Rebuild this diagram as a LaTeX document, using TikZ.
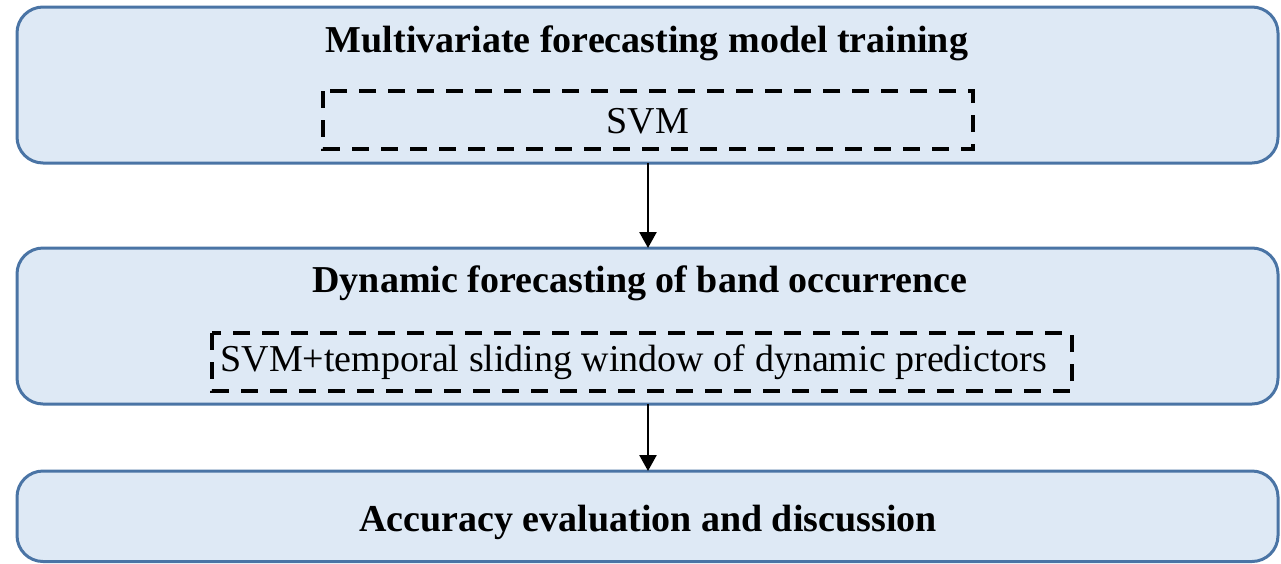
\documentclass[tikz,border=0pt]{standalone}
\usepackage{fontspec}
\setmainfont{Liberation Serif}
\usetikzlibrary{arrows.meta}
\definecolor{boxfill}{HTML}{DEE9F5}
\definecolor{boxline}{HTML}{4A74A5}
\begin{document}
\begin{tikzpicture}[x=1pt,y=-1pt,
  stage/.style={draw=boxline, fill=boxfill, line width=3pt, rounded corners=26pt},
  dbox/.style={draw=black, line width=4pt, dash pattern=on 17pt off 12pt},
  title/.style={font=\fontsize{38}{44}\selectfont\bfseries, inner sep=0pt},
  sub/.style={font=\fontsize{38}{44}\selectfont, inner sep=0pt},
  arr/.style={-{Triangle[length=16pt,width=17pt]}, line width=2.5pt}]
\useasboundingbox (0,0) rectangle (1281,563);
\draw[stage] (17,7) rectangle (1278,163);
\draw[stage] (17,248) rectangle (1278,404);
\draw[stage] (17,471) rectangle (1278,561.5);
\coordinate (b1s) at (648,163);
\coordinate (b2n) at (648,248);
\coordinate (b2s) at (648,404);
\coordinate (b3n) at (648,471);
\node[title] (t1) at (647,43) {Multivariate forecasting model training};
\draw[dbox] (323,91) rectangle (973,149);
\node[sub] (s1) at (648,121) {SVM};
\node[title] (t2) at (640,283) {Dynamic forecasting of band occurrence};
\draw[dbox] (212,333) rectangle (1072,391);
\node[sub] (s2) at (634,362) {SVM+temporal sliding window of dynamic predictors};
\node[title] (t3) at (648,522) {Accuracy evaluation and discussion};
\draw[arr] (b1s) -- (b2n);
\draw[arr] (b2s) -- (b3n);
\end{tikzpicture}
\end{document}
